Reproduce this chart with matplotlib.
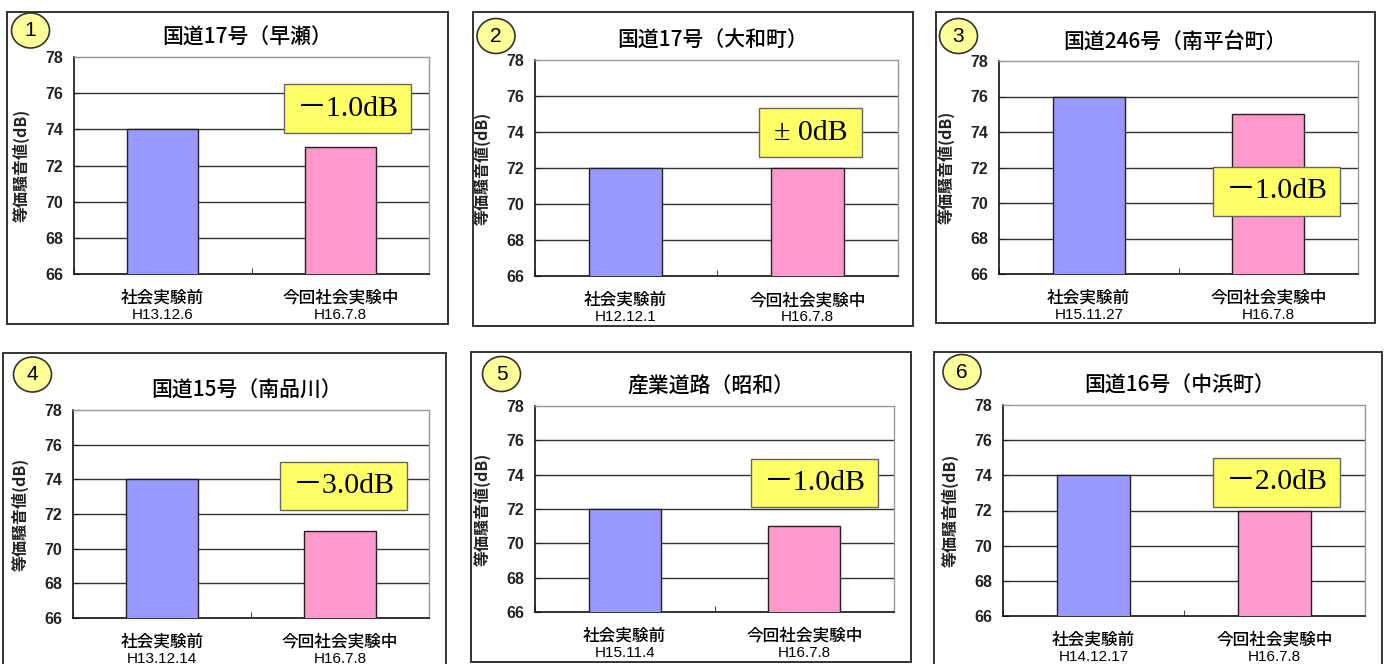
import matplotlib
matplotlib.use("Agg")
import matplotlib.pyplot as plt
from matplotlib.patches import Rectangle, Ellipse

plt.rcParams["font.family"] = ["Noto Sans CJK JP", "DejaVu Sans"]

# data
titles = ["国道17号（早瀬）", "国道17号（大和町）", "国道246号（南平台町）",
          "国道15号（南品川）", "産業道路（昭和）", "国道16号（中浜町）"]
categories = ["社会実験前", "今回社会実験中"]
before = [74, 72, 76, 74, 72, 74]
during = [73, 72, 75, 71, 71, 72]
before_dates = ["H13.12.6", "H12.12.1", "H15.11.27", "H13.12.14", "H15.11.4", "H14.12.17"]
during_date = "H16.7.8"
diff_labels = ["－1.0dB", "± 0dB", "－1.0dB", "－3.0dB", "－1.0dB", "－2.0dB"]
panel_nums = ["1", "2", "3", "4", "5", "6"]
yticks = [66, 68, 70, 72, 74, 76, 78]
ylabel = "等価騒音値(dB)"

W, H = 1390, 664
fig = plt.figure(figsize=(W / 100, H / 100), dpi=100)

# layout, in pixels (x0, y0, x1, y1) from top-left
frames = [(7, 12, 448, 324), (473, 12, 913, 326), (936, 12, 1375, 323),
          (3, 353, 446, 670), (471, 352, 911, 662), (934, 352, 1382, 670)]
plots = [(74, 57, 429, 274), (535, 60, 898, 276), (999, 61, 1358, 274),
         (73, 410, 429, 618), (535, 406, 894, 612), (1003, 405, 1365, 616)]
notes = [(284, 84, 411, 133), (759, 108, 862, 157), (1213, 167, 1340, 216),
         (280, 462, 407, 510), (751, 459, 878, 507), (1213, 458, 1340, 507)]
badges = [(30.5, 30.5), (496, 36), (958.5, 36), (32.5, 374.5), (501.5, 374), (962, 372)]

PT = 0.72  # points per pixel


def fig_rect(x0, y0, x1, y1):
    return [x0 / W, 1 - y1 / H, (x1 - x0) / W, (y1 - y0) / H]


for i in range(6):
    # panel frame
    r = fig_rect(*frames[i])
    fig.add_artist(Rectangle((r[0], r[1]), r[2], r[3], transform=fig.transFigure,
                             fill=False, ec="#333333", lw=1.4))

    ax = fig.add_axes(fig_rect(*plots[i]))
    pw = plots[i][2] - plots[i][0]
    ax.set_xlim(-0.5, 1.5)
    ax.set_ylim(66, 78)
    for v in yticks[1:-1]:
        ax.axhline(v, color="#333333", lw=1, zorder=1)
    ax.bar([0, 1], [before[i], during[i]], width=0.4, bottom=0,
           color=["#9999FF", "#FF99CC"], edgecolor="#222222", lw=1, zorder=3)

    ax.set_yticks(yticks)
    ax.set_yticklabels([str(v) for v in yticks], family="Liberation Sans",
                       fontsize=11.5, fontweight="bold", color="#222222")
    ax.tick_params(axis="y", direction="in", length=4, pad=8, color="#222222")
    ax.set_xticks([0, 1])
    ax.set_xticklabels([])
    ax.tick_params(axis="x", length=0)
    ax.set_xticks([-0.5, 0.5, 1.5], minor=True)
    ax.tick_params(axis="x", which="minor", direction="in", length=4, color="#222222")

    for s in ["left", "bottom"]:
        ax.spines[s].set_color("#111111")
        ax.spines[s].set_linewidth(1.2)
    for s in ["top", "right"]:
        ax.spines[s].set_color("#999999")
        ax.spines[s].set_linewidth(1)

    ax.set_ylabel(ylabel, fontsize=11.5, fontweight="bold", color="#222222")
    ax.yaxis.set_label_coords(-44 / pw, 0.5)

    ax.annotate(titles[i], xy=(0.5, 1), xycoords="axes fraction",
                xytext=(-4 * PT, 19 * PT), textcoords="offset points",
                ha="center", va="center", fontsize=15, fontweight="medium")

    dates = [before_dates[i], during_date]
    for j in range(2):
        ax.annotate(categories[j], xy=(j, 0), xycoords=("data", "axes fraction"),
                    xytext=(0, -24 * PT), textcoords="offset points",
                    ha="center", va="center", fontsize=12, fontweight="medium")
        ax.annotate(dates[j], xy=(j, 0), xycoords=("data", "axes fraction"),
                    xytext=(0, -41 * PT), textcoords="offset points",
                    ha="center", va="center", fontsize=11, family="Liberation Sans")

    # difference note
    n = fig_rect(*notes[i])
    fig.add_artist(Rectangle((n[0], n[1]), n[2], n[3], transform=fig.transFigure,
                             fc="#FFFF66", ec="#666666", lw=1, zorder=5))
    fig.text(n[0] + n[2] / 2, n[1] + n[3] / 2, diff_labels[i], ha="center", va="center",
             fontsize=21.5, family=["Liberation Serif", "Noto Sans CJK JP"], zorder=6)

    # panel number badge
    bx, by = badges[i]
    fig.add_artist(Ellipse((bx / W, 1 - by / H), 38 / W, 35 / H, transform=fig.transFigure,
                           fc="#FFFF99", ec="#333333", lw=1.2, zorder=5))
    fig.text(bx / W, 1 - by / H, panel_nums[i], ha="center", va="center",
             fontsize=15, family="Liberation Sans", zorder=6)

fig.savefig("out.png", dpi=100)
